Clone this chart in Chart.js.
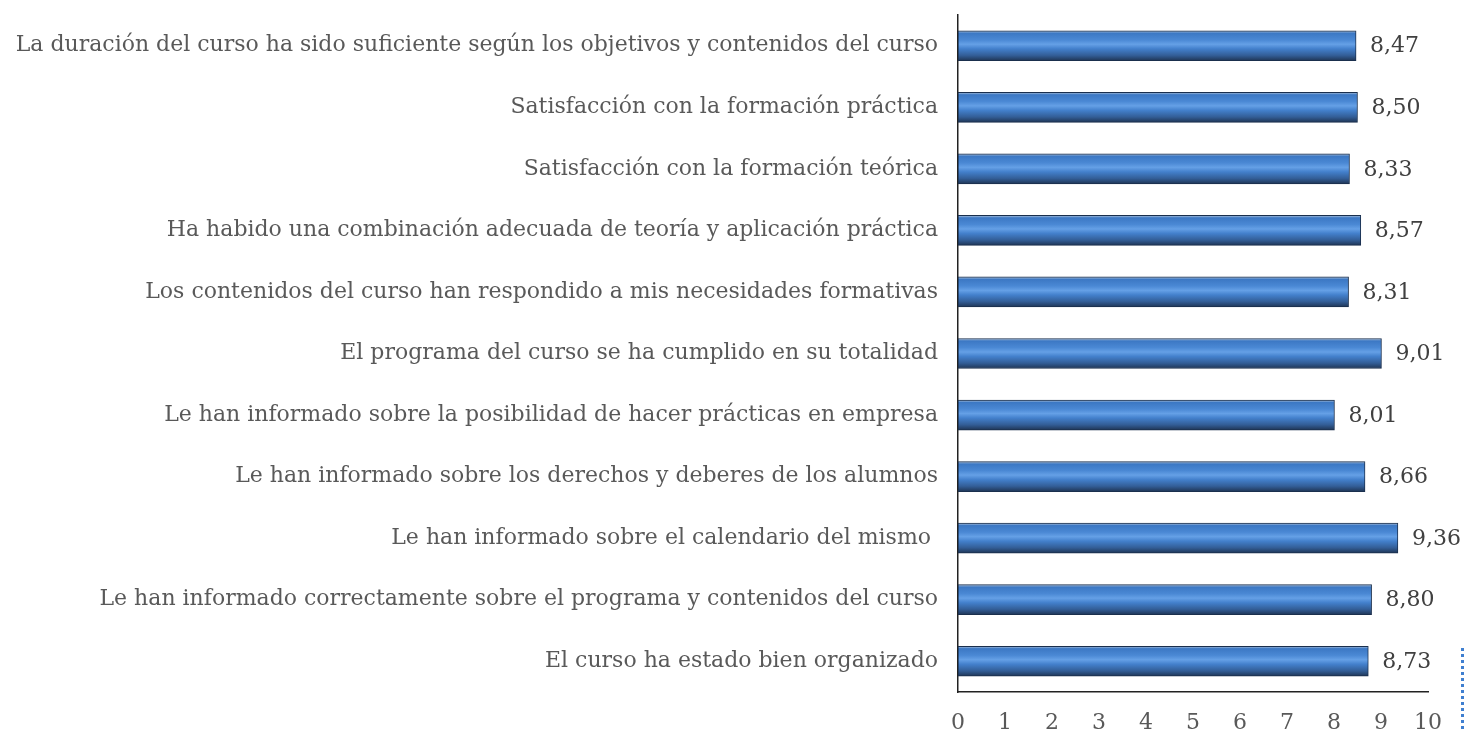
<!DOCTYPE html>
<html>
<head>
<meta charset="utf-8">
<script src="https://cdn.jsdelivr.net/npm/chart.js@4.4.1/dist/chart.umd.min.js"></script>
<style>
    html, body { margin: 0; padding: 0; background: #fff; }
    #wrap { position: relative; width: 1465px; height: 729px; }
    #frameEdge {
        position: absolute; left: 1461px; top: 648px; height: 81px;
        border-left: 3px dotted #3f7fd0;
    }
</style>
</head>
<body>
<div id="wrap">
    <canvas id="survey-chart" width="1465" height="729"></canvas>
    <div id="frameEdge"></div>
</div>
<script>
    'use strict';

    const categories = [
        'La duración del curso ha sido suficiente según los objetivos y contenidos del curso',
        'Satisfacción con la formación práctica',
        'Satisfacción con la formación teórica',
        'Ha habido una combinación adecuada de teoría y aplicación práctica',
        'Los contenidos del curso han respondido a mis necesidades formativas',
        'El programa del curso se ha cumplido en su totalidad',
        'Le han informado sobre la posibilidad de hacer prácticas en empresa',
        'Le han informado sobre los derechos y deberes de los alumnos',
        'Le han informado sobre el calendario del mismo ',
        'Le han informado correctamente sobre el programa y contenidos del curso',
        'El curso ha estado bien organizado'
    ];
    const scores = [8.47, 8.50, 8.33, 8.57, 8.31, 9.01, 8.01, 8.66, 9.36, 8.80, 8.73];
    const axisTicks = [0, 1, 2, 3, 4, 5, 6, 7, 8, 9, 10];

    const FONT = '"DejaVu Serif", "Liberation Serif", serif';
    const TEXT_GREY = '#595959';
    const BAR_HEIGHT = 30;

    // vertical gloss gradient for each bar, like the office "bevel" look
    function barFill(context) {
        const chart = context.chart;
        const yScale = chart.scales.y;
        if (!yScale) return '#4a85cf';
        const yc = yScale.getPixelForValue(context.dataIndex);
        if (!isFinite(yc)) return '#4a85cf';
        const top = yc - BAR_HEIGHT / 2;
        const g = chart.ctx.createLinearGradient(0, top, 0, top + BAR_HEIGHT);
        g.addColorStop(0, '#b5c8de');
        g.addColorStop(0.08, '#3c78c4');
        g.addColorStop(0.3, '#4a88d4');
        g.addColorStop(0.45, '#65a0e6');
        g.addColorStop(0.6, '#4380cc');
        g.addColorStop(0.82, '#335e97');
        g.addColorStop(1, '#1f3555');
        return g;
    }

    // writes "8,47" style values right of each bar
    const valueLabels = {
        id: 'valueLabels',
        afterDatasetsDraw(chart) {
            const ctx = chart.ctx;
            const meta = chart.getDatasetMeta(0);
            ctx.save();
            ctx.font = '22px ' + FONT;
            ctx.fillStyle = '#404040';
            ctx.textAlign = 'left';
            ctx.textBaseline = 'middle';
            meta.data.forEach((bar, i) => {
                const txt = scores[i].toFixed(2).replace('.', ',');
                ctx.fillText(txt, bar.x + 14, bar.y + 1);
            });
            ctx.restore();
        }
    };

    const ctx = document.getElementById('survey-chart').getContext('2d');
    new Chart(ctx, {
        type: 'bar',
        data: {
            labels: categories,
            datasets: [{
                data: scores,
                backgroundColor: barFill,
                borderColor: '#1a2f4d',
                borderWidth: 1,
                borderSkipped: false,
                barThickness: BAR_HEIGHT
            }]
        },
        options: {
            indexAxis: 'y',
            responsive: false,
            animation: false,
            layout: { padding: { top: 15, right: 37, bottom: 0, left: 0 } },
            plugins: {
                legend: { display: false },
                tooltip: { enabled: false }
            },
            scales: {
                x: {
                    min: axisTicks[0],
                    max: axisTicks[axisTicks.length - 1],
                    afterBuildTicks: (scale) => {
                        scale.ticks = axisTicks.map(v => ({ value: v }));
                    },
                    afterFit: (scale) => { scale.height = 37; },
                    grid: { display: false },
                    border: { display: true, color: '#222', width: 1.5 },
                    ticks: {
                        padding: 10,
                        color: TEXT_GREY,
                        font: { family: FONT, size: 22 }
                    }
                },
                y: {
                    afterFit: (scale) => {
                        scale.width = 958;
                        scale.paddingTop = 0;
                        scale.paddingBottom = 0;
                    },
                    grid: { display: false },
                    border: { display: true, color: '#222', width: 1.5 },
                    ticks: {
                        padding: 12,
                        color: TEXT_GREY,
                        font: { family: FONT, size: 22 }
                    }
                }
            }
        },
        plugins: [valueLabels]
    });
</script>
</body>
</html>
